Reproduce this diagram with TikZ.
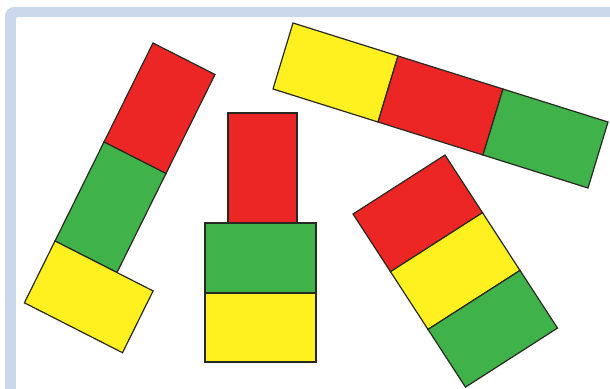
\documentclass[tikz,border=0pt]{standalone}
\usetikzlibrary{calc}
\definecolor{framecol}{RGB}{203,216,235}
\definecolor{bred}{RGB}{236,38,36}
\definecolor{bgreen}{RGB}{64,178,74}
\definecolor{byellow}{RGB}{255,241,32}
\definecolor{edgecol}{RGB}{40,40,35}
\tikzset{
  blk/.style={draw=edgecol, line width=1.2pt, line join=miter},
  redb/.style={blk, fill=bred},
  greenb/.style={blk, fill=bgreen},
  yellowb/.style={blk, fill=byellow}
}
\begin{document}
\begin{tikzpicture}[x=1pt,y=-1pt]
\useasboundingbox (0,0) rectangle (610,388);
\clip (0,0) rectangle (610,388);
% frame
\fill[framecol, rounded corners=9pt] (5,7) rectangle (640,420);
\fill[white, rounded corners=2pt] (16,17) rectangle (640,420);

% shape 1: tilted column (red, green) with yellow foot
\coordinate (a0) at (153,43);
\coordinate (au) at (62,31.5);
\coordinate (av) at (-49,99);
\filldraw[redb] (a0) -- ($(a0)+(au)$) -- ($(a0)+(au)+(av)$) -- ($(a0)+(av)$) -- cycle;
\filldraw[greenb] ($(a0)+(av)$) -- ($(a0)+(au)+(av)$) -- ($(a0)+(au)+2*(av)$) -- ($(a0)+2*(av)$) -- cycle;
\coordinate (y0) at ($(a0)+2*(av)$);
\filldraw[yellowb] (y0) -- ($(y0)+(98.1,49.9)$) -- ($(y0)+(98.1,49.9)+(-30.6,61.8)$) -- ($(y0)+(-30.6,61.8)$) -- cycle;

% shape 2: upright stack
\filldraw[redb] (228,113) rectangle (297,223);
\filldraw[greenb] (205,223) rectangle (316,293);
\filldraw[yellowb] (205,293) rectangle (316,362);

% shape 3: tilted row (yellow, red, green)
\coordinate (b0) at (293,23);
\coordinate (bu) at (105,33);
\coordinate (bv) at (-20,66);
\filldraw[yellowb] (b0) -- ($(b0)+(bu)$) -- ($(b0)+(bu)+(bv)$) -- ($(b0)+(bv)$) -- cycle;
\filldraw[redb] ($(b0)+(bu)$) -- ($(b0)+2*(bu)$) -- ($(b0)+2*(bu)+(bv)$) -- ($(b0)+(bu)+(bv)$) -- cycle;
\filldraw[greenb] ($(b0)+2*(bu)$) -- ($(b0)+3*(bu)$) -- ($(b0)+3*(bu)+(bv)$) -- ($(b0)+2*(bu)+(bv)$) -- cycle;

% shape 4: tilted stack (red, yellow, green)
\coordinate (c0) at (353,214);
\coordinate (cu) at (92,-59);
\coordinate (cv) at (37.5,57.7);
\filldraw[redb] (c0) -- ($(c0)+(cu)$) -- ($(c0)+(cu)+(cv)$) -- ($(c0)+(cv)$) -- cycle;
\filldraw[yellowb] ($(c0)+(cv)$) -- ($(c0)+(cu)+(cv)$) -- ($(c0)+(cu)+2*(cv)$) -- ($(c0)+2*(cv)$) -- cycle;
\filldraw[greenb] ($(c0)+2*(cv)$) -- ($(c0)+(cu)+2*(cv)$) -- ($(c0)+(cu)+3*(cv)$) -- ($(c0)+3*(cv)$) -- cycle;
\end{tikzpicture}
\end{document}
